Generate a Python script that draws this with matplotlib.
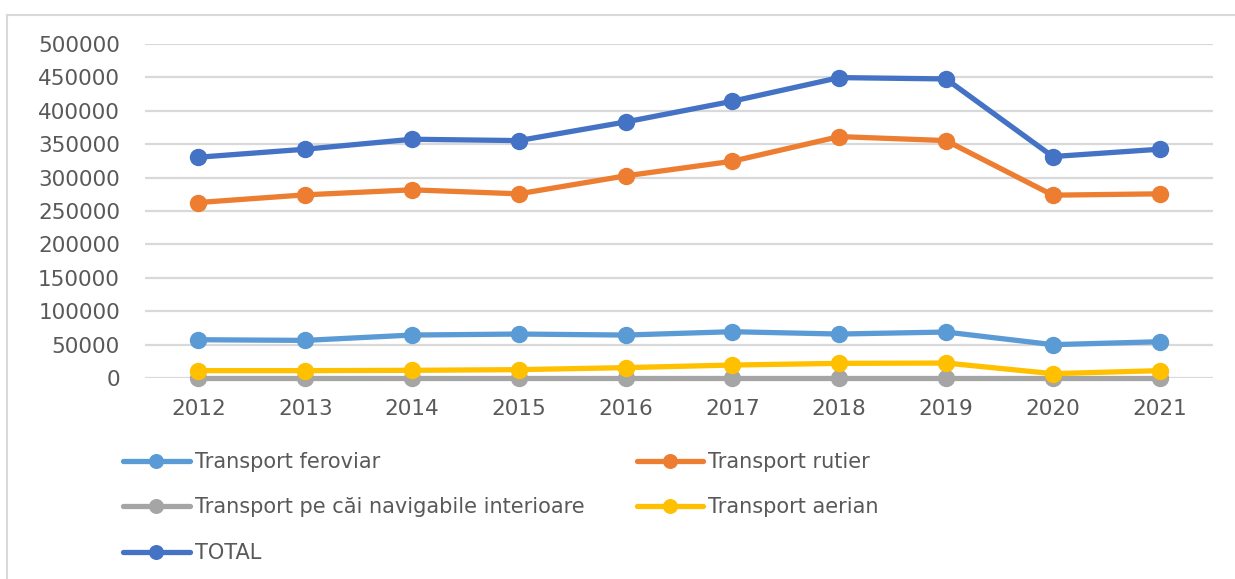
import matplotlib.pyplot as plt
from matplotlib.lines import Line2D

ani = ['2012', '2013', '2014', '2015', '2016', '2017', '2018', '2019', '2020', '2021']

feroviar = [57300, 56300, 64300, 65800, 64300, 69300, 65800, 68800, 49900, 54300]
rutier = [262700, 274200, 281700, 275700, 302600, 324500, 361400, 355400, 273700, 275700]
navigabile = [600, 600, 600, 600, 600, 600, 600, 600, 600, 600]
aerian = [11000, 11000, 11500, 12500, 15500, 19400, 21900, 22400, 6500, 11000]
total = [330500, 342500, 357400, 355400, 383300, 414300, 449700, 447700, 331500, 342500]

serii = [
    ('Transport feroviar', feroviar, '#5B9BD5'),
    ('Transport rutier', rutier, '#ED7D31'),
    ('Transport pe căi navigabile interioare', navigabile, '#A5A5A5'),
    ('Transport aerian', aerian, '#FFC000'),
    ('TOTAL', total, '#4472C4'),
]

fig = plt.figure(figsize=(12.35, 5.79), dpi=100)
ax = fig.add_axes([145 / 1235, 1 - 378 / 579, 1068 / 1235, 334 / 579])

x = range(len(ani))
linii = {}
for nume, valori, culoare in serii:
    l, = ax.plot(x, valori, color=culoare, linewidth=3.8, marker='o', markersize=11.5,
                 label=nume, solid_capstyle='round', clip_on=False)
    linii[nume] = l

ax.set_xlim(-0.5, len(ani) - 0.5)
ax.set_ylim(0, 500000)
ax.set_yticks(range(0, 500001, 50000))
ax.set_xticks(list(x))
ax.set_xticklabels(ani)
ax.grid(axis='y', color='#D9D9D9', linewidth=1.6)
ax.set_axisbelow(True)
for s in ax.spines.values():
    s.set_visible(False)
ax.tick_params(length=0, labelsize=15.5, labelcolor='#595959')
ax.tick_params(axis='y', pad=18)
ax.tick_params(axis='x', pad=15)

ordine = ['Transport feroviar', 'Transport pe căi navigabile interioare', 'TOTAL',
          'Transport rutier', 'Transport aerian']
fig.legend([linii[n] for n in ordine], ordine, ncol=2, loc='upper left',
           bbox_to_anchor=(123 / 1235, 1 - 452 / 579), frameon=False,
           fontsize=15, labelcolor='#595959', handlelength=3.2, handletextpad=0.25,
           columnspacing=2.5, labelspacing=1.22, borderaxespad=0, borderpad=0,
           markerscale=0.85)

# chenar
fig.add_artist(Line2D([7 / 1235, 1], [1 - 15 / 579, 1 - 15 / 579], color='#D9D9D9', linewidth=1.5))
fig.add_artist(Line2D([7 / 1235, 7 / 1235], [0, 1 - 15 / 579], color='#D9D9D9', linewidth=1.5))

fig.savefig('out.png', dpi=100)
